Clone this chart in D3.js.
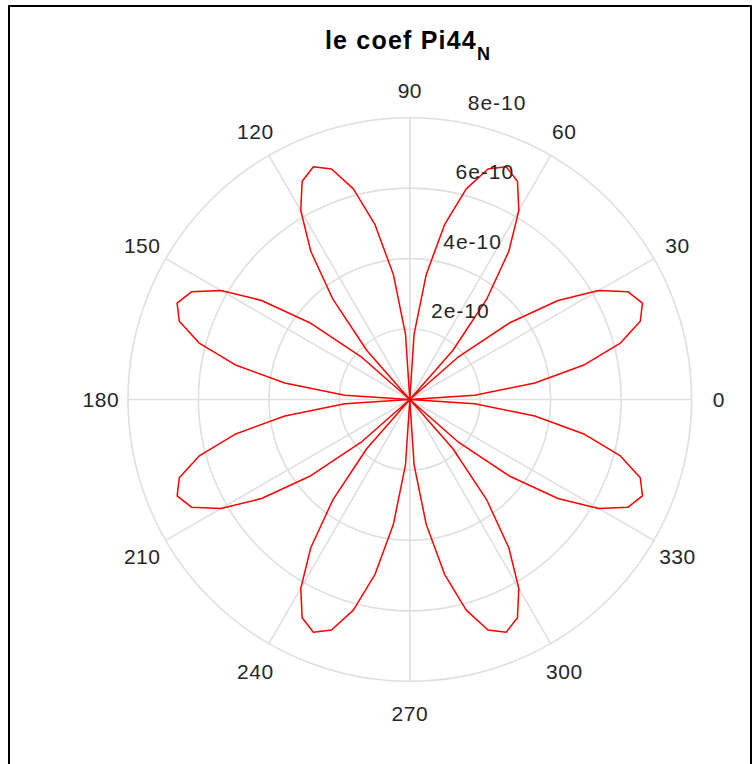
<!DOCTYPE html>
<html>
<head>
<meta charset="utf-8">
<script src="https://cdn.jsdelivr.net/npm/d3@7/dist/d3.min.js"></script>
<style>
  html, body { margin: 0; padding: 0; background: #fff; }
  svg { display: block; }
</style>
</head>
<body>
<svg id="chart" width="755" height="764"></svg>
<script>
// Sample angles in degrees (3.75 deg step, full turn)
const thetaDeg = [
  0, 3.75, 7.5, 11.25, 15, 18.75, 22.5, 26.25, 30, 33.75, 37.5, 41.25,
  45, 48.75, 52.5, 56.25, 60, 63.75, 67.5, 71.25, 75, 78.75, 82.5, 86.25,
  90, 93.75, 97.5, 101.25, 105, 108.75, 112.5, 116.25, 120, 123.75, 127.5, 131.25,
  135, 138.75, 142.5, 146.25, 150, 153.75, 157.5, 161.25, 165, 168.75, 172.5, 176.25,
  180, 183.75, 187.5, 191.25, 195, 198.75, 202.5, 206.25, 210, 213.75, 217.5, 221.25,
  225, 228.75, 232.5, 236.25, 240, 243.75, 247.5, 251.25, 255, 258.75, 262.5, 266.25,
  270, 273.75, 277.5, 281.25, 285, 288.75, 292.5, 296.25, 300, 303.75, 307.5, 311.25,
  315, 318.75, 322.5, 326.25, 330, 333.75, 337.5, 341.25, 345, 348.75, 352.5, 356.25,
  360
];

// Pi44_N magnitude at each angle, in units of 1e-10
const pi44 = [
  0, 1.85, 3.58, 5.06, 6.19, 6.91, 7.15, 6.91, 6.19, 5.06, 3.58, 1.85,
  0, 1.85, 3.58, 5.06, 6.19, 6.91, 7.15, 6.91, 6.19, 5.06, 3.58, 1.85,
  0, 1.85, 3.58, 5.06, 6.19, 6.91, 7.15, 6.91, 6.19, 5.06, 3.58, 1.85,
  0, 1.85, 3.58, 5.06, 6.19, 6.91, 7.15, 6.91, 6.19, 5.06, 3.58, 1.85,
  0, 1.85, 3.58, 5.06, 6.19, 6.91, 7.15, 6.91, 6.19, 5.06, 3.58, 1.85,
  0, 1.85, 3.58, 5.06, 6.19, 6.91, 7.15, 6.91, 6.19, 5.06, 3.58, 1.85,
  0, 1.85, 3.58, 5.06, 6.19, 6.91, 7.15, 6.91, 6.19, 5.06, 3.58, 1.85,
  0, 1.85, 3.58, 5.06, 6.19, 6.91, 7.15, 6.91, 6.19, 5.06, 3.58, 1.85,
  0
];

// Radial ticks (units of 1e-10) and their labels
const rTicks = [2, 4, 6, 8];
const rTickLabels = ["2e-10", "4e-10", "6e-10", "8e-10"];

// Angular ticks and labels
const thetaTicks = [0, 30, 60, 90, 120, 150, 180, 210, 240, 270, 300, 330];
const thetaTickLabels = ["0", "30", "60", "90", "120", "150", "180", "210", "240", "270", "300", "330"];

const svg = d3.select("#chart");
const cx = 409.8, cy = 399.5, R = 281.8;
const gridColor = "#dfdfdf";
const textColor = "#262626";
const fontFamily = "'Liberation Sans', Arial, Helvetica, sans-serif";

// Figure frame
svg.append("rect")
  .attr("x", 9).attr("y", 6)
  .attr("width", 742).attr("height", 800)
  .attr("fill", "none").attr("stroke", "#000").attr("stroke-width", 2);

const r = d3.scaleLinear().domain([0, 8]).range([0, R]);
const toRad = d => d * Math.PI / 180;

const g = svg.append("g").attr("transform", `translate(${cx},${cy})`);

// Angular grid spokes
g.selectAll("line.spoke")
  .data(thetaTicks)
  .join("line")
  .attr("class", "spoke")
  .attr("x1", 0).attr("y1", 0)
  .attr("x2", d => R * Math.cos(toRad(d)))
  .attr("y2", d => -R * Math.sin(toRad(d)))
  .attr("stroke", gridColor).attr("stroke-width", 1.6);

// Radial grid rings
g.selectAll("circle.ring")
  .data(rTicks)
  .join("circle")
  .attr("class", "ring")
  .attr("r", d => r(d))
  .attr("fill", "none")
  .attr("stroke", gridColor).attr("stroke-width", 1.6);

// Angular tick labels (labels below the centre sit a little further out)
const labelR = 309;
g.selectAll("text.theta")
  .data(thetaTicks)
  .join("text")
  .attr("class", "theta")
  .attr("x", d => labelR * Math.cos(toRad(d)))
  .attr("y", d => -labelR * Math.sin(toRad(d)) + 5 * Math.max(0, -Math.sin(toRad(d))))
  .attr("text-anchor", "middle")
  .attr("dominant-baseline", "central")
  .attr("font-family", fontFamily)
  .attr("font-size", 21)
  .attr("letter-spacing", 0.5)
  .attr("fill", textColor)
  .text((d, i) => thetaTickLabels[i]);

// Pi44 curve
const line = d3.lineRadial()
  .angle((d, i) => Math.PI / 2 - toRad(thetaDeg[i]))
  .radius(d => r(d));

g.append("path")
  .datum(pi44)
  .attr("d", line)
  .attr("fill", "none")
  .attr("stroke", "#ff0000")
  .attr("stroke-width", 1.5)
  .attr("stroke-linejoin", "round");

// Radial tick labels along the 80 degree direction
const rAxisAngle = toRad(80);
g.selectAll("text.rtick")
  .data(rTicks)
  .join("text")
  .attr("class", "rtick")
  .attr("x", d => r(d) * Math.cos(rAxisAngle) + 9)
  .attr("y", d => -r(d) * Math.sin(rAxisAngle) - 12)
  .attr("font-family", fontFamily)
  .attr("font-size", 21)
  .attr("letter-spacing", 1)
  .attr("fill", textColor)
  .text((d, i) => rTickLabels[i]);

// Title with subscript
const title = svg.append("text")
  .attr("x", 408)
  .attr("y", 49)
  .attr("text-anchor", "middle")
  .attr("font-family", fontFamily)
  .attr("font-weight", "bold")
  .attr("font-size", 25)
  .attr("letter-spacing", 1.2)
  .attr("fill", "#000");
title.append("tspan").text("le coef Pi44");
title.append("tspan").attr("font-size", 18).attr("dy", 11).text("N");
</script>
</body>
</html>
